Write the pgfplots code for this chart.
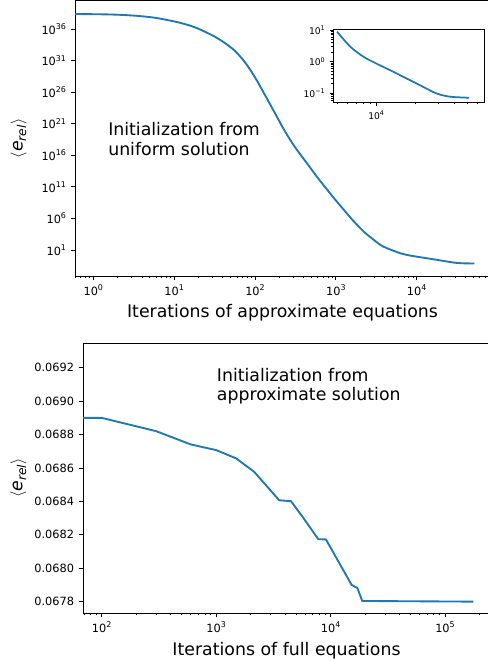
\documentclass[border=0pt]{standalone}
\usepackage{fontspec}
\setmainfont{DejaVu Sans}
\usepackage{pgfplots}
\pgfplotsset{compat=1.18}
\usepackage{pgfplotstable}

\definecolor{mplblue}{HTML}{1F77B4}
% exponent for power-of-ten tick labels set in the text font
\newcommand\ep[1]{\raisebox{0.42em}{\scalebox{0.7}{#1}}}
\newcommand\erel{$\langle$\textit{e}\textsubscript{\textit{rel}}$\rangle$}

% mean relative error, iterations of the approximate equations
\pgfplotstableread{
x       y
0.594   2.34e38
1       2.19e38
1.778   1.91e38
3.162   1.32e38
5.623   6.31e37
10      1.58e37
13.34   6.31e36
17.78   2.0e36
23.71   3.98e35
31.62   6.31e34
42.17   6.31e33
56.23   3.55e32
74.99   5.62e30
100     2.24e28
133.4   3.16e25
177.8   3.98e22
237.1   5.01e19
316.2   1.58e17
438.5   5.62e14
575.4   5.01e12
776.2   3.98e10
1000    7.08e8
1259    2.24e7
1585    7.08e5
2203    8.51e3
2818    631
3548    66.1
4169    22.4
5000    8.85
6324    2.96
8000    1.42
10000   0.875
12794   0.537
16181   0.331
20464   0.204
25882   0.124
28184   0.1047
30903   0.0912
33884   0.0832
36813   0.0785
39811   0.0762
43954   0.0746
51761   0.0724
}\approxdata

% tail of the same run, shown in the inset
\pgfplotstableread{
x       y
5000    8.85
6324    2.96
8000    1.42
10000   0.875
12794   0.537
16181   0.331
20464   0.204
25882   0.124
28184   0.1047
30903   0.0912
33884   0.0832
36813   0.0785
39811   0.0762
43954   0.0746
51761   0.0724
}\approxtail

% mean relative error, iterations of the full equations
\pgfplotstableread{
x       y
68.65   0.068900
100     0.068900
300     0.068820
600     0.068741
1000    0.068707
1500    0.068657
2150    0.068577
3556    0.068407
4511    0.068401
5800    0.068300
7805    0.068174
9120    0.068172
15280   0.067900
17130   0.067882
18930   0.067804
177000  0.067800
}\fulldata

\pgfplotsset{
  mplaxis/.style={
    scale only axis,
    axis line style={line width=0.7pt},
    tick align=outside,
    xtick pos=left, ytick pos=left,
    major tick length=3.2pt, minor tick length=1.8pt,
    every tick/.style={black, line width=0.65pt},
    tick label style={font=\fontsize{8.5}{10}\selectfont},
    label style={font=\fontsize{13}{15}\selectfont},
  },
  curve/.style={color=mplblue, line width=1.4pt, mark=none},
}

\begin{document}
\begin{tikzpicture}
% upper panel
\begin{axis}[mplaxis,
  at={(56.25pt,288.75pt)}, anchor=south west,
  width=311.25pt, height=206.625pt,
  xmode=log, ymode=log,
  xmin=0.594, xmax=80700, ymin=7.6e-4, ymax=3.24e40,
  xtick={1,10,100,1000,10000},
  xticklabels={10\ep{0},10\ep{1},10\ep{2},10\ep{3},10\ep{4}},
  minor xtick={0.6,0.7,0.8,0.9,2,3,4,5,6,7,8,9,20,30,40,50,60,70,80,90,
    200,300,400,500,600,700,800,900,2000,3000,4000,5000,6000,7000,8000,9000,
    20000,30000,40000,50000,60000,70000,80000},
  ytick={10,1e6,1e11,1e16,1e21,1e26,1e31,1e36},
  yticklabels={10\ep{1},10\ep{6},10\ep{11},10\ep{16},10\ep{21},10\ep{26},10\ep{31},10\ep{36}},
  minor ytick={},
  xlabel={Iterations of approximate equations},
  ylabel={\erel},
  xlabel style={at={(axis description cs:0.5,-0.1524)}, anchor=base},
  ylabel style={at={(axis description cs:-0.1361,0.5)}, anchor=center},
]
\addplot[curve, smooth, tension=0.5] table[x=x, y=y] {\approxdata};
\end{axis}

% inset: late iterations of the upper panel
\begin{axis}[mplaxis,
  at={(249.75pt,419.0pt)}, anchor=south west,
  width=113.25pt, height=54.75pt,
  axis background/.style={fill=white},
  xmode=log, ymode=log,
  xmin=4656, xmax=67450, ymin=0.052, ymax=10.47,
  major tick length=2.6pt, minor tick length=1.5pt,
  tick label style={font=\fontsize{6.9}{8}\selectfont},
  xtick={10000}, xticklabels={10\ep{4}},
  minor xtick={5000,6000,7000,8000,9000,20000,30000,40000,50000,60000},
  ytick={0.1,1,10},
  yticklabels={10\ep{−1},10\ep{0},10\ep{1}},
  minor ytick={0.06,0.07,0.08,0.09,0.2,0.3,0.4,0.5,0.6,0.7,0.8,0.9,2,3,4,5,6,7,8,9},
]
\addplot[curve, line width=1.3pt, smooth, tension=0.5] table[x=x, y=y] {\approxtail};
\end{axis}

% lower panel
\begin{axis}[mplaxis,
  at={(62.25pt,36pt)}, anchor=south west,
  width=305.25pt, height=202.5pt,
  xmode=log,
  xmin=68.65, xmax=247400, ymin=0.067732, ymax=0.069348,
  xtick={100,1000,10000,100000},
  xticklabels={10\ep{2},10\ep{3},10\ep{4},10\ep{5}},
  minor xtick={70,80,90,200,300,400,500,600,700,800,900,
    2000,3000,4000,5000,6000,7000,8000,9000,
    20000,30000,40000,50000,60000,70000,80000,90000,200000},
  ytick={0.0678,0.0680,0.0682,0.0684,0.0686,0.0688,0.0690,0.0692},
  yticklabels={0.0678,0.0680,0.0682,0.0684,0.0686,0.0688,0.0690,0.0692},
  scaled y ticks=false,
  xlabel={Iterations of full equations},
  ylabel={\erel},
  xlabel style={at={(axis description cs:0.5,-0.1556)}, anchor=base},
  ylabel style={at={(axis description cs:-0.1585,0.5)}, anchor=center},
]
\addplot[curve] table[x=x, y=y] {\fulldata};
\end{axis}

\begin{scope}[every node/.style={anchor=base west, inner sep=0pt,
    font=\fontsize{13}{15}\selectfont}]
\node at (81pt,393.75pt) {Initialization from};
\node at (81pt,379pt) {uniform solution};
\node at (162.5pt,209.5pt) {Initialization from};
\node at (162.5pt,195pt) {approximate solution};
\end{scope}

\pgfresetboundingbox
\useasboundingbox (0,0) rectangle (366pt,495.75pt);
\end{tikzpicture}
\end{document}
